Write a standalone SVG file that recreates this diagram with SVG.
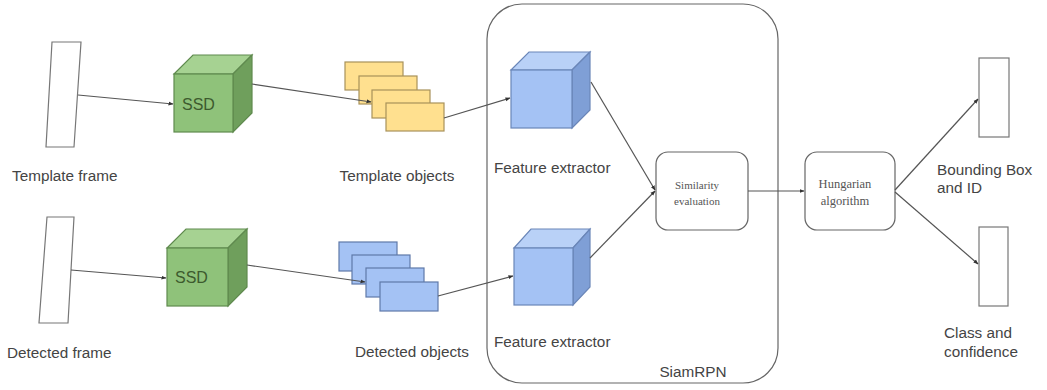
<svg xmlns="http://www.w3.org/2000/svg" width="1047" height="390" viewBox="0 0 1047 390">
<defs>
<style>
.lbl{font-family:"Liberation Sans",Arial,sans-serif;font-size:15.3px;fill:#444}
.ser{font-family:"Liberation Serif","Times New Roman",serif;font-size:11px;fill:#555}
.ser2{font-family:"Liberation Serif","Times New Roman",serif;font-size:12.5px;fill:#555}
.ssd{font-family:"Liberation Sans",Arial,sans-serif;font-size:16px;fill:#3d5a2e}
.frame{fill:#fff;stroke:#777;stroke-width:1.2}
.gf{fill:#8fc27a;stroke:#5f8a4e;stroke-width:1.2}
.gt{fill:#a6d292;stroke:#5f8a4e;stroke-width:1.2}
.gr{fill:#6f9f5c;stroke:#5f8a4e;stroke-width:1.2}
.bf{fill:#a4c2f4;stroke:#6a86b8;stroke-width:1.2}
.bt{fill:#b9d1f7;stroke:#6a86b8;stroke-width:1.2}
.br{fill:#7f9fd6;stroke:#6a86b8;stroke-width:1.2}
.yr{fill:#ffe08f;stroke:#a8925a;stroke-width:1.2}
.br2{fill:#a4c2f4;stroke:#5f79a8;stroke-width:1.2}
.box{fill:#fff;stroke:#666;stroke-width:1.2}
.edge{fill:none;stroke:#555;stroke-width:1.2;marker-end:url(#arr)}
</style>
<marker id="arr" viewBox="0 0 10 10" refX="9" refY="5" markerWidth="5" markerHeight="5" orient="auto" markerUnits="userSpaceOnUse">
<path d="M0,1 L10,5 L0,9 z" fill="#333"/>
</marker>
</defs>
<rect width="1047" height="390" fill="#fff"/>

<g id="siamrpn">
<rect x="487" y="4" width="291" height="379" rx="35" ry="35" class="box"/>
<text x="693" y="377" class="lbl" text-anchor="middle">SiamRPN</text>
</g>

<g id="template-frame">
<polygon points="52,42 81,42 74,147 46,147" class="frame"/>
<text x="12" y="181" class="lbl">Template frame</text>
</g>
<g id="detected-frame">
<polygon points="47,217 74,217 68,323 39,323" class="frame"/>
<text x="7" y="358" class="lbl">Detected frame</text>
</g>

<g id="ssd-top">
<polygon points="174,74 193,55 252,55 233,74" class="gt"/>
<polygon points="233,74 252,55 252,113 233,132" class="gr"/>
<rect x="174" y="74" width="59" height="58" class="gf"/>
<text x="182" y="110" class="ssd">SSD</text>
</g>
<g id="ssd-bottom">
<polygon points="167,248 186,229 247,229 228,248" class="gt"/>
<polygon points="228,248 247,229 247,287 228,306" class="gr"/>
<rect x="167" y="248" width="61" height="58" class="gf"/>
<text x="175" y="283" class="ssd">SSD</text>
</g>

<g id="template-objects">
<rect x="345" y="62" width="58" height="28" class="yr"/>
<rect x="359" y="76" width="58" height="28" class="yr"/>
<rect x="372" y="90" width="58" height="28" class="yr"/>
<rect x="386" y="103" width="58" height="28" class="yr"/>
<text x="397" y="181" class="lbl" text-anchor="middle">Template objects</text>
</g>
<g id="detected-objects">
<rect x="339" y="242" width="58" height="29" class="br2"/>
<rect x="352" y="255" width="58" height="29" class="br2"/>
<rect x="366" y="268" width="58" height="29" class="br2"/>
<rect x="380" y="282" width="58" height="29" class="br2"/>
<text x="412" y="357" class="lbl" text-anchor="middle">Detected objects</text>
</g>

<g id="fe-top">
<polygon points="511,70 529,52 590,52 572,70" class="bt"/>
<polygon points="572,70 590,52 590,110 572,128" class="br"/>
<rect x="511" y="70" width="61" height="58" class="bf"/>
<text x="494" y="173" class="lbl">Feature extractor</text>
</g>
<g id="fe-bottom">
<polygon points="514,248 531,229 590,229 573,248" class="bt"/>
<polygon points="573,248 590,229 590,287 573,305" class="br"/>
<rect x="514" y="248" width="59" height="57" class="bf"/>
<text x="494" y="347" class="lbl">Feature extractor</text>
</g>

<g id="similarity">
<rect x="656" y="152" width="92" height="78" rx="12" ry="12" class="box"/>
<text x="697" y="189" class="ser" text-anchor="middle">Similarity</text>
<text x="697" y="205" class="ser" text-anchor="middle">evaluation</text>
</g>
<g id="hungarian">
<rect x="805" y="152" width="90" height="78" rx="12" ry="12" class="box"/>
<text x="845" y="188" class="ser2" text-anchor="middle">Hungarian</text>
<text x="845" y="205" class="ser2" text-anchor="middle">algorithm</text>
</g>

<g id="bbox-out">
<rect x="979" y="58" width="30" height="79" class="frame"/>
<text x="937" y="175" class="lbl">Bounding Box</text>
<text x="937" y="193" class="lbl">and ID</text>
</g>
<g id="class-out">
<rect x="979" y="227" width="29" height="79" class="frame"/>
<text x="944" y="338" class="lbl">Class and</text>
<text x="944" y="357" class="lbl">confidence</text>
</g>

<g id="connectors">
<line x1="78" y1="95" x2="173" y2="104" class="edge"/>
<line x1="71" y1="270" x2="166" y2="278" class="edge"/>
<line x1="252" y1="84" x2="371" y2="102" class="edge"/>
<line x1="247" y1="265" x2="365" y2="282" class="edge"/>
<line x1="444" y1="118" x2="510" y2="98" class="edge"/>
<line x1="438" y1="296" x2="513" y2="276" class="edge"/>
<line x1="591" y1="82" x2="655" y2="190" class="edge"/>
<line x1="590" y1="258" x2="655" y2="191" class="edge"/>
<line x1="748" y1="191" x2="804" y2="191" class="edge"/>
<line x1="895" y1="190" x2="978" y2="99" class="edge"/>
<line x1="895" y1="192" x2="978" y2="264" class="edge"/>
</g>
</svg>
